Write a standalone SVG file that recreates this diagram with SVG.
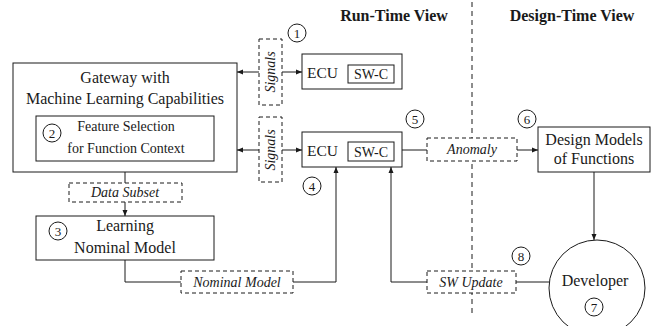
<svg xmlns="http://www.w3.org/2000/svg" width="657" height="326" viewBox="0 0 657 326" font-family="'Liberation Serif', 'DejaVu Serif', serif">
<style>
text{font-family:'Liberation Serif','DejaVu Serif',serif;fill:#1a1a1a}
.box{fill:#fff;stroke:#1a1a1a;stroke-width:1}
.dbox{fill:#fff;stroke:#1a1a1a;stroke-width:1;stroke-dasharray:4,3}
.ln{fill:none;stroke:#1a1a1a;stroke-width:1}
.num{fill:#fff;stroke:#1a1a1a;stroke-width:1}
.n{font-size:13px;text-anchor:middle}
.t16{font-size:16px;text-anchor:middle}
.lab{font-size:14px;font-style:italic;text-anchor:middle}
.h{font-size:16px;font-weight:bold;text-anchor:middle}
</style>
<defs>
<marker id="ah" viewBox="0 0 6 6" refX="6" refY="3" markerWidth="6" markerHeight="6" markerUnits="userSpaceOnUse" orient="auto">
<path d="M0,0.5 L6,3 L0,5.5 z" fill="#1a1a1a"/>
</marker>
</defs>
<rect width="657" height="326" fill="#fff"/>
<text class="h" x="394" y="21">Run-Time View</text>
<text class="h" x="572" y="21">Design-Time View</text>
<g id="divider"><line class="ln" x1="472" y1="2" x2="472" y2="316" stroke-dasharray="5,4"/></g>
<g id="connectors">
<line class="ln" x1="259" y1="72" x2="237" y2="72" marker-end="url(#ah)"/>
<line class="ln" x1="282" y1="72" x2="302" y2="72" marker-end="url(#ah)"/>
<line class="ln" x1="259" y1="150" x2="237" y2="150" marker-end="url(#ah)"/>
<line class="ln" x1="282" y1="150" x2="302" y2="150" marker-end="url(#ah)"/>
<line class="ln" x1="125" y1="161" x2="125" y2="183"/>
<line class="ln" x1="125" y1="202" x2="125" y2="216" marker-end="url(#ah)"/>
<polyline class="ln" points="125,260 125,282 181,282"/>
<polyline class="ln" points="293,282 336,282 336,167" marker-end="url(#ah)"/>
<polyline class="ln" points="427,282 391,282 391,167" marker-end="url(#ah)"/>
<line class="ln" x1="516" y1="282" x2="549" y2="282"/>
<line class="ln" x1="402" y1="150" x2="427" y2="150"/>
<line class="ln" x1="517" y1="150" x2="538" y2="150" marker-end="url(#ah)"/>
<line class="ln" x1="594" y1="172" x2="594" y2="240" marker-end="url(#ah)"/>
</g>
<g id="gateway">
<rect class="box" x="13" y="63" width="224" height="109"/>
<text class="t16" x="125" y="83">Gateway with</text>
<text class="t16" x="125" y="104">Machine Learning Capabilities</text>
</g>
<g id="feature">
<rect class="box" x="36" y="116" width="178" height="45"/>
<text x="126" y="131" style="font-size:14px;text-anchor:middle">Feature Selection</text>
<text x="126" y="153" style="font-size:14px;text-anchor:middle">for Function Context</text>
<circle class="num" cx="52" cy="133" r="9"/><text class="n" x="52" y="137.5">2</text>
</g>
<g id="signals1">
<rect class="dbox" x="259" y="39" width="23" height="66"/>
<text class="lab" transform="translate(275,72) rotate(-90)">Signals</text>
</g>
<g id="signals2">
<rect class="dbox" x="259" y="117" width="23" height="65"/>
<text class="lab" transform="translate(275,150) rotate(-90)">Signals</text>
</g>
<g id="ecu1">
<rect class="box" x="302" y="54" width="100" height="35"/>
<text x="307" y="78" style="font-size:15.5px">ECU</text>
<rect class="box" x="348" y="65" width="46" height="18"/>
<text x="371" y="79" style="font-size:14px;text-anchor:middle">SW-C</text>
</g>
<g id="ecu2">
<rect class="box" x="302" y="132" width="100" height="35"/>
<text x="307" y="156" style="font-size:15.5px">ECU</text>
<rect class="box" x="348" y="142" width="46" height="19"/>
<text x="371" y="157" style="font-size:14px;text-anchor:middle">SW-C</text>
</g>
<g id="datasubset">
<rect class="dbox" x="69" y="183" width="113" height="19"/>
<text class="lab" x="125" y="197">Data Subset</text>
</g>
<g id="learning">
<rect class="box" x="36" y="216" width="178" height="44"/>
<text class="t16" x="125" y="231">Learning</text>
<text class="t16" x="125" y="253">Nominal Model</text>
<circle class="num" cx="58" cy="231" r="9"/><text class="n" x="58" y="235.5">3</text>
</g>
<g id="nominal">
<rect class="dbox" x="181" y="271" width="112" height="22"/>
<text class="lab" x="237" y="287">Nominal Model</text>
</g>
<g id="anomaly">
<rect class="dbox" x="427" y="138" width="90" height="23"/>
<text class="lab" x="472" y="154">Anomaly</text>
</g>
<g id="swupdate">
<rect class="dbox" x="427" y="271" width="89" height="22"/>
<text class="lab" x="471" y="287">SW Update</text>
</g>
<g id="design">
<rect class="box" x="538" y="127" width="112" height="45"/>
<text class="t16" x="594" y="145">Design Models</text>
<text class="t16" x="594" y="164">of Functions</text>
</g>
<g id="developer">
<circle class="box" cx="597" cy="288" r="48"/>
<text class="t16" x="595" y="286">Developer</text>
<circle class="num" cx="594" cy="307" r="9"/><text class="n" x="594" y="311.5">7</text>
</g>
<g id="labels">
<circle class="num" cx="297" cy="33" r="9"/><text class="n" x="297" y="37.5">1</text>
<circle class="num" cx="312" cy="186" r="9"/><text class="n" x="312" y="190.5">4</text>
<circle class="num" cx="415" cy="119" r="9"/><text class="n" x="415" y="123.5">5</text>
<circle class="num" cx="527" cy="119" r="9"/><text class="n" x="527" y="123.5">6</text>
<circle class="num" cx="521" cy="256" r="9"/><text class="n" x="521" y="260.5">8</text>
</g>
</svg>
